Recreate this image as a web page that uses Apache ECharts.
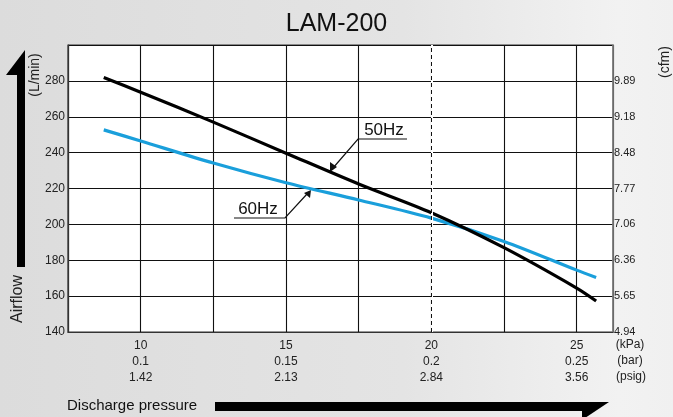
<!DOCTYPE html>
<html>
<head>
<meta charset="utf-8">
<script src="https://cdn.jsdelivr.net/npm/echarts@6/dist/echarts.min.js"></script>
<style>
html, body { margin: 0; padding: 0; }
body { background: linear-gradient(to right, #dcdcdc 0%, #e4e4e4 60%, #f2f2f2 92%, #f0f0f0 100%); }
#chart { width: 673px; height: 417px; }
</style>
</head>
<body>
<div id="chart"></div>
<script>
// data
var pressure = [8.73, 10, 12.5, 15, 17.5, 20, 22.5, 25, 25.67];
var flow50 = [281.9, 273.7, 257, 239.7, 222.5, 206.5, 187, 164.5, 157.3];
var flow60 = [252.7, 246.5, 234.2, 223.2, 213.6, 203.5, 190.5, 174.5, 170.4];
var kpaTicks = [10, 15, 20, 25];
var barTicks = ['0.1', '0.15', '0.2', '0.25'];
var psigTicks = ['1.42', '2.13', '2.84', '3.56'];
var cfmTicks = ['4.94', '5.65', '6.36', '7.06', '7.77', '8.48', '9.18', '9.89'];
var dashedAt = 20;

var font = 'Liberation Sans, Arial, sans-serif';

function pairs(xs, ys) {
    var out = [];
    xs.forEach(function (x, i) { out.push([x, ys[i]]); });
    return out;
}

var chart = echarts.init(document.getElementById('chart'));
chart.setOption({
    backgroundColor: 'transparent',
    animation: false,
    title: {
        text: 'LAM-200', left: 'center', top: 7,
        textStyle: { fontFamily: font, fontSize: 25, fontWeight: 'normal', color: '#111' }
    },
    grid: {
        left: 68, top: 45, right: 60, bottom: 85,
        show: true, backgroundColor: '#fff', borderColor: '#333', borderWidth: 1.2
    },
    xAxis: {
        type: 'value', min: 7.5, max: 26.25, interval: 2.5,
        axisLine: { lineStyle: { color: '#333', width: 1.2 } },
        axisTick: { show: false },
        splitLine: { lineStyle: { color: '#111', width: 1.1 } },
        axisLabel: {
            margin: 6, lineHeight: 16, fontFamily: font, fontSize: 12, color: '#222',
            formatter: function (v) {
                var i = kpaTicks.indexOf(v);
                if (i < 0) return '';
                return kpaTicks[i] + '\n' + barTicks[i] + '\n' + psigTicks[i];
            }
        }
    },
    yAxis: [{
        type: 'value', min: 140, max: 300, interval: 20, position: 'left',
        axisLine: { show: true, lineStyle: { color: '#333', width: 1.2 } },
        axisTick: { show: false },
        splitLine: { lineStyle: { color: '#111', width: 1.1 } },
        axisLabel: {
            margin: 3, fontFamily: font, fontSize: 12, color: '#222',
            formatter: function (v) { return v >= 300 ? '' : String(v); }
        }
    }, {
        type: 'value', min: 140, max: 300, interval: 20, position: 'right',
        axisLine: { show: true, lineStyle: { color: '#888', width: 1.5 } },
        axisTick: { show: false },
        splitLine: { show: false },
        axisLabel: {
            margin: 1, fontFamily: font, fontSize: 11, color: '#222', verticalAlign: 'middle', padding: [3, 0, 0, 0],
            formatter: function (v) { return cfmTicks[(v - 140) / 20] || ''; }
        }
    }],
    series: [{
        type: 'line', data: [], z: 1, silent: true,
        markLine: {
            symbol: 'none', silent: true, label: { show: false }, animation: false,
            data: [
                { xAxis: dashedAt, lineStyle: { color: '#fff', type: 'solid', width: 2 } },
                { xAxis: dashedAt, lineStyle: { color: '#111', type: [4, 3], width: 1 } }
            ]
        }
    }, {
        name: '60Hz', type: 'line', z: 3, smooth: 0.3, showSymbol: false,
        data: pairs(pressure, flow60),
        lineStyle: { color: '#1a9fdb', width: 3.2 }
    }, {
        name: '50Hz', type: 'line', z: 4, smooth: 0.3, showSymbol: false,
        data: pairs(pressure, flow50),
        lineStyle: { color: '#000', width: 3.2 }
    }],
    graphic: [
        // axis names
        { type: 'text', x: 35, y: 75, rotation: Math.PI / 2, style: { text: '(L/min)', font: '14px ' + font, fill: '#222', align: 'center', verticalAlign: 'middle' } },
        { type: 'text', x: 18, y: 299, rotation: Math.PI / 2, style: { text: 'Airflow', font: '16px ' + font, fill: '#222', align: 'center', verticalAlign: 'middle' } },
        { type: 'text', x: 665, y: 62, rotation: Math.PI / 2, style: { text: '(cfm)', font: '14px ' + font, fill: '#222', align: 'center', verticalAlign: 'middle' } },
        { type: 'text', x: 630, y: 345, style: { text: '(kPa)', font: '12px ' + font, fill: '#222', align: 'center', verticalAlign: 'middle' } },
        { type: 'text', x: 630, y: 361, style: { text: '(bar)', font: '12px ' + font, fill: '#222', align: 'center', verticalAlign: 'middle' } },
        { type: 'text', x: 631, y: 377, style: { text: '(psig)', font: '12px ' + font, fill: '#222', align: 'center', verticalAlign: 'middle' } },
        { type: 'text', x: 67, y: 406, style: { text: 'Discharge pressure', font: '15px ' + font, fill: '#111', align: 'left', verticalAlign: 'middle' } },
        // big arrows
        { type: 'polygon', shape: { points: [[17, 267], [17, 75], [6, 75], [25, 50], [25, 267]] }, style: { fill: '#000' } },
        { type: 'polygon', shape: { points: [[215, 402], [609, 402], [582, 420], [582, 411], [215, 411]] }, style: { fill: '#000' } },
        // 50Hz label
        { type: 'text', x: 384, y: 130, style: { text: '50Hz', font: '17px ' + font, fill: '#111', align: 'center', verticalAlign: 'middle' } },
        { type: 'polyline', shape: { points: [[407, 139], [358, 139], [333, 168]] }, style: { stroke: '#111', lineWidth: 1.2, fill: null } },
        { type: 'polygon', shape: { points: [[330, 172], [330, 162], [337, 167]] }, style: { fill: '#111' } },
        // 60Hz label
        { type: 'text', x: 258, y: 209, style: { text: '60Hz', font: '17px ' + font, fill: '#111', align: 'center', verticalAlign: 'middle' } },
        { type: 'polyline', shape: { points: [[234, 218], [285, 218], [307, 194]] }, style: { stroke: '#111', lineWidth: 1.2, fill: null } },
        { type: 'polygon', shape: { points: [[311, 190], [304, 193], [310, 198]] }, style: { fill: '#111' } }
    ]
});
</script>
</body>
</html>
